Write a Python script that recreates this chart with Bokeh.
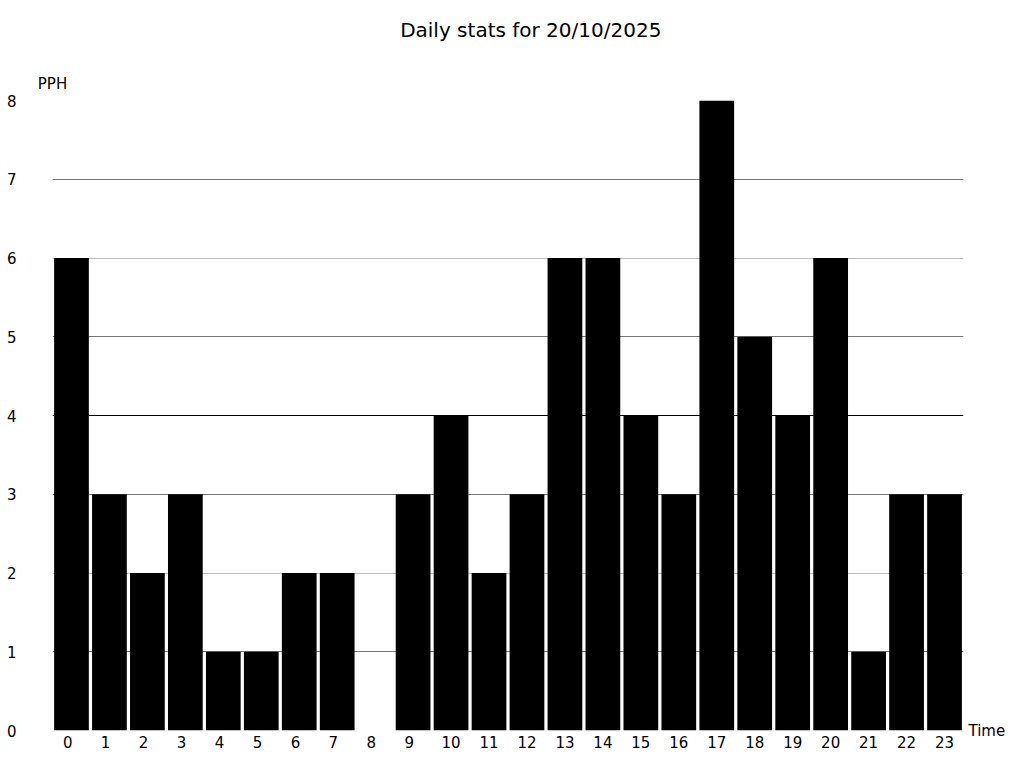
from bokeh.plotting import figure
from bokeh.models import Range1d, FixedTicker, Grid, LinearAxis, CustomJSTickFormatter, ColumnDataSource
from bokeh.embed import file_html
from bokeh.resources import INLINE

title_text = "Daily stats for 20/10/2025"
y_label = "PPH"
x_label = "Time"
hours = list(range(24))
values = [6, 3, 2, 3, 1, 1, 2, 2, 0, 3, 4, 2, 3, 6, 6, 4, 3, 8, 5, 4, 6, 1, 3, 3]
y_ticks = [0, 1, 2, 3, 4, 5, 6, 7, 8]

FONT = "DejaVu Sans"
X0, X1 = -0.5, 23.5
TITLE_X = 12.1

p = figure(width=1008, height=752, output_backend="svg", toolbar_location=None,
           x_range=Range1d(X0, X1), y_range=Range1d(0, 8),
           min_border_left=52, min_border_right=44, min_border_top=100, min_border_bottom=22)
p.outline_line_color = None
p.background_fill_color = "white"
p.border_fill_color = "white"

src = ColumnDataSource(dict(hour=hours, value=values))
p.vbar(x="hour", top="value", width=0.915, source=src, fill_color="black", line_color=None)


def plain(ax, size="15px", standoff=0):
    ax.axis_line_color = None
    ax.major_tick_line_color = None
    ax.minor_tick_line_color = None
    ax.major_tick_out = 0
    ax.major_tick_in = 0
    ax.minor_tick_out = 0
    ax.minor_tick_in = 0
    ax.major_label_text_font = FONT
    ax.major_label_text_font_size = size
    ax.major_label_text_color = "black"
    ax.major_label_standoff = standoff


# bottom axis: hour labels (single digits sit a little left, as in reference)
xa = p.xaxis[0]
xa.ticker = FixedTicker(ticks=[h - 0.1 if h < 10 else h for h in hours])
xa.formatter = CustomJSTickFormatter(code="return Math.round(tick).toString()")
plain(xa, standoff=5)

ya = p.yaxis[0]
ya.ticker = FixedTicker(ticks=y_ticks)
plain(ya, standoff=36)

# y-axis name above the top-left corner
pph_axis = LinearAxis(ticker=FixedTicker(ticks=[X0]), major_label_overrides={X0: y_label})
plain(pph_axis, standoff=8)
p.add_layout(pph_axis, "above")

# chart title
title_axis = LinearAxis(ticker=FixedTicker(ticks=[TITLE_X]), major_label_overrides={TITLE_X: title_text})
plain(title_axis, size="20px", standoff=30)
p.add_layout(title_axis, "above")

# x-axis name to the right of the baseline
time_axis = LinearAxis(ticker=FixedTicker(ticks=[0]), major_label_overrides={0: x_label})
plain(time_axis, standoff=5)
p.add_layout(time_axis, "right")

p.xgrid.visible = False
p.ygrid.ticker = FixedTicker(ticks=[0, 4, 8])
p.ygrid.grid_line_color = "black"
p.ygrid.grid_line_width = 1
p.add_layout(Grid(dimension=1, ticker=FixedTicker(ticks=[2, 6]), grid_line_color="#bbbbbb", grid_line_width=1))
p.add_layout(Grid(dimension=1, ticker=FixedTicker(ticks=[1, 3, 5, 7]), grid_line_color="#777777", grid_line_width=1))

open("out.html", "w").write(file_html(p, INLINE))
